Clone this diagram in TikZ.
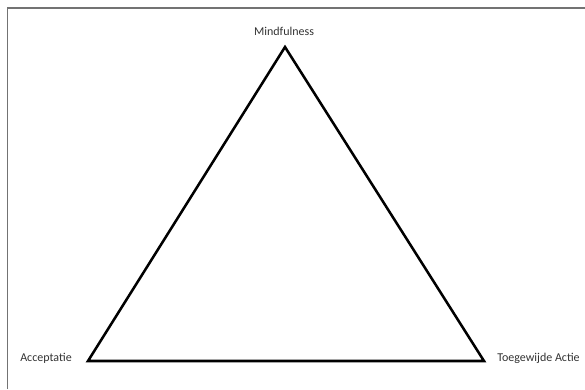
\documentclass[tikz,border=0pt]{standalone}
\usepackage{fontspec}
\setmainfont{Carlito}
\begin{document}
\begin{tikzpicture}[x=0.75pt,y=0.75pt,
  lbl/.style={font=\fontsize{9}{11}\selectfont, text=black!80, inner sep=0pt},
  tri/.style={line width=1.9pt, line join=miter},
  frame/.style={draw=black!55, line width=0.8pt}]
\useasboundingbox (0,0) rectangle (585,389);
\draw[frame] (7.5,0) -- (7.5,381) -- (585,381);
\coordinate (T) at (285,342);
\coordinate (L) at (88,28);
\coordinate (R) at (484,28);
\draw[tri] (T) -- (L) -- (R) -- cycle;
\node[lbl] (m) at (284,358) {Mindfulness};
\node[lbl, anchor=east] (a) at (72,31) {Acceptatie};
\node[lbl, anchor=west] (t) at (497,31) {Toegewijde Actie};
\end{tikzpicture}
\end{document}
